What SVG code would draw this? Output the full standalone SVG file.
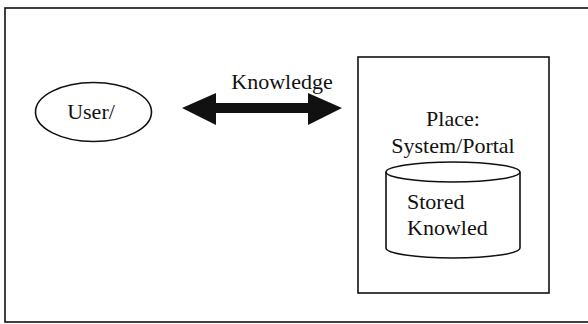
<svg xmlns="http://www.w3.org/2000/svg" width="588" height="324" viewBox="0 0 588 324">
<style>
.ln{fill:#fff;stroke:#111;stroke-width:1.6}
.t{font-size:22px;fill:#111}
</style>
<rect x="0" y="0" width="588" height="324" fill="#fff"/>
<rect id="frame" x="5" y="8" width="592" height="314" fill="none" stroke="#111" stroke-width="1.6"/>
<g id="user">
<ellipse class="ln" cx="93.5" cy="112" rx="58" ry="29.5"/>
<text class="t" font-family="Liberation Serif, DejaVu Serif, serif" x="91" y="119" text-anchor="middle">User/</text>
</g>
<g id="place">
<rect class="ln" x="358" y="57" width="191" height="236"/>
<text class="t" font-family="Liberation Serif, DejaVu Serif, serif" x="453" y="126" text-anchor="middle">Place:</text>
<text class="t" font-family="Liberation Serif, DejaVu Serif, serif" x="453" y="153" text-anchor="middle">System/Portal</text>
</g>
<g id="store">
<path class="ln" d="M386,172 L386,248 A67,10 0 0 0 520,248 L520,172"/>
<ellipse class="ln" cx="453" cy="172" rx="67" ry="10"/>
<text class="t" font-family="Liberation Serif, DejaVu Serif, serif" x="407" y="209">Stored</text>
<text class="t" font-family="Liberation Serif, DejaVu Serif, serif" x="407" y="235">Knowled</text>
</g>
<g id="connectors">
<path d="M182,108 L216,93 L216,103 L308,103 L308,93 L342,108 L308,125 L308,113 L216,113 L216,125 Z" fill="#111"/>
<text class="t" font-family="Liberation Serif, DejaVu Serif, serif" x="282" y="89" text-anchor="middle">Knowledge</text>
</g>
</svg>
